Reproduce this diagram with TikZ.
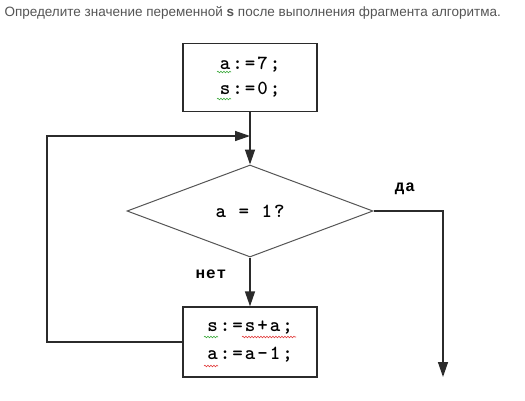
\documentclass[tikz,border=0pt]{standalone}
\usepackage{fontspec}
\setmainfont{Liberation Sans}
\newfontfamily\codefont[LetterSpace=10]{lmmonolt10-bold.otf}
\newfontfamily\labelfont[LetterSpace=6]{Liberation Mono}
\usetikzlibrary{shapes.geometric}
\usetikzlibrary{arrows.meta}
\usetikzlibrary{decorations.pathmorphing}
\definecolor{linegray}{HTML}{2B2B2B}
\definecolor{titlegray}{HTML}{555555}
\definecolor{spellgreen}{HTML}{3DAA3D}
\definecolor{spellred}{HTML}{E23A3A}
\tikzset{
 stmtbox/.style={draw=linegray,line width=1.3pt,minimum width=134pt,
  minimum height=68pt,align=center,inner sep=0pt,
  font=\codefont\fontsize{20}{25}\selectfont},
 testbox/.style={diamond,draw=linegray!80,line width=1pt,minimum width=246pt,
  minimum height=92pt,inner sep=0pt,font=\codefont\fontsize{20}{22}\selectfont},
 flow/.style={draw=linegray,line width=1.4pt,-{Triangle[length=15pt,width=10pt]}},
 branch/.style={font=\labelfont\bfseries\fontsize{16}{18}\selectfont},
 spell/.style={decorate,decoration={snake,amplitude=0.8pt,segment length=3pt},
  line width=0.6pt},
}

\begin{document}
\begin{tikzpicture}[x=1pt,y=-1pt]
    \useasboundingbox[fill=white] (0,0) rectangle (525,400);
    % question
    \node[anchor=west,text=titlegray,font=\fontsize{13.5}{15}\selectfont] (title) at (1,13)
        {Определите значение переменной \textbf{s} после выполнения фрагмента алгоритма.};
    % blocks
    \node[stmtbox] (init) at (250,77.5) {a:=7;\\s:=0;};
    \node[testbox] (cond) at (250,211) {a = 1?};
    \node[stmtbox,minimum height=70pt] (body) at (250,342) {s:=s+a;\\[3pt]a:=a-1;};
    \coordinate (join) at (250,136);
    \coordinate (corner) at (47,136);
    \coordinate (exit) at (443,377);
    % connectors
    \draw[flow] (init.south) -- (cond.north);
    \draw[flow] (cond.south) -- (body.north);
    \draw[flow] (body.west) -| (corner) -- (join);
    \draw[flow] (cond.east) -| (exit);
    \node[branch] (yes) at (405,189) {да};
    \node[branch] (no) at (211,274) {нет};
    % spell marks
    \draw[spell,spellgreen] (217,72) -- (231,72);
    \draw[spell,spellgreen] (217,99) -- (231,99);
    \draw[spell,spellgreen] (204,337) -- (218,337);
    \draw[spell,spellred] (242,337) -- (296,337);
    \draw[spell,spellred] (204,366) -- (218,366);
\end{tikzpicture}
\end{document}
